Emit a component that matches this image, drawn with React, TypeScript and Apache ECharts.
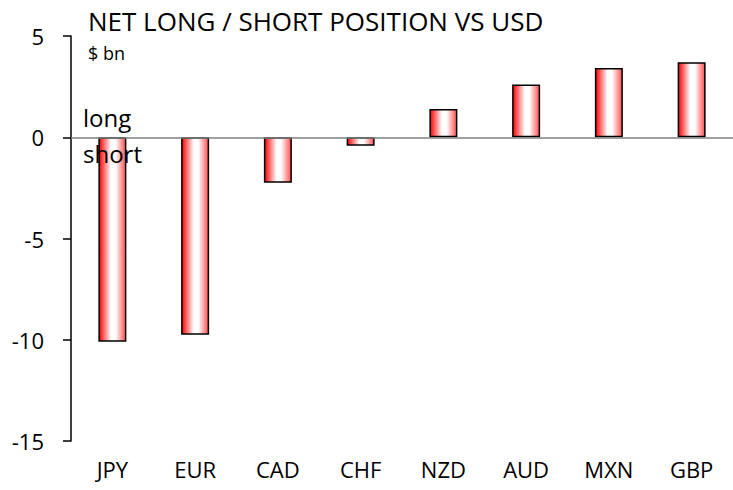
import React, { useEffect, useRef } from "react";
import * as echarts from "echarts";

const categories = ["JPY", "EUR", "CAD", "CHF", "NZD", "AUD", "MXN", "GBP"];
const values = [-10.1, -9.75, -2.25, -0.42, 1.4, 2.6, 3.42, 3.7];
const yTicks = { min: -15, max: 5, interval: 5 };

const FONT = "'Open Sans', Lato, sans-serif";

export default function App() {
  const ref = useRef<HTMLDivElement>(null);
  useEffect(() => {
    if (!ref.current) return;
    const chart = echarts.init(ref.current, undefined, { renderer: "svg" });
    const barFill = new echarts.graphic.LinearGradient(0, 0, 1, 0, [
      { offset: 0, color: "#ff0000" },
      { offset: 0.45, color: "#ffffff" },
      { offset: 0.62, color: "#ffffff" },
      { offset: 1, color: "#ff5050" },
    ]);
    chart.setOption({
      animation: false,
      backgroundColor: "#ffffff",
      grid: { left: 71, right: 0, top: 36, bottom: 49, containLabel: false },
      xAxis: {
        type: "category",
        data: categories,
        position: "bottom",
        axisLine: { show: false, onZero: false },
        axisTick: { show: false },
        axisLabel: { color: "#000", fontFamily: FONT, fontSize: 22, margin: 17 },
      },
      yAxis: {
        type: "value",
        min: yTicks.min,
        max: yTicks.max,
        interval: yTicks.interval,
        axisLine: { show: true, lineStyle: { color: "#000", width: 1.5 } },
        axisTick: { show: true, inside: false, length: 8, lineStyle: { color: "#000", width: 1.5 } },
        splitLine: { show: false },
        axisLabel: { color: "#000", fontFamily: FONT, fontSize: 22, margin: 27 },
      },
      series: [
        {
          type: "bar",
          data: values,
          barWidth: 28,
          itemStyle: { color: barFill, borderColor: "#000", borderWidth: 1.5 },
          markLine: {
            silent: true,
            symbol: "none",
            label: { show: false },
            lineStyle: { color: "#808080", width: 1.5, type: "solid" },
            data: [{ yAxis: 0 }],
          },
        },
      ],
      graphic: [
        {
          type: "text",
          left: 88,
          top: 8,
          style: { text: "NET LONG / SHORT POSITION VS USD", font: `26px ${FONT}`, fill: "#000" },
        },
        {
          type: "text",
          left: 88,
          top: 44,
          style: { text: "$ bn", font: `18px ${FONT}`, fill: "#000" },
        },
        {
          type: "text",
          left: 83,
          top: 105,
          style: { text: "long", font: `24px ${FONT}`, fill: "#000" },
          z: 100,
        },
        {
          type: "text",
          left: 83,
          top: 141,
          style: { text: "short", font: `24px ${FONT}`, fill: "#000" },
          z: 100,
        },
      ],
    });
    return () => chart.dispose();
  }, []);
  return <div ref={ref} style={{ width: 733, height: 490, position: "fixed", left: 0, top: 0 }} />;
}
